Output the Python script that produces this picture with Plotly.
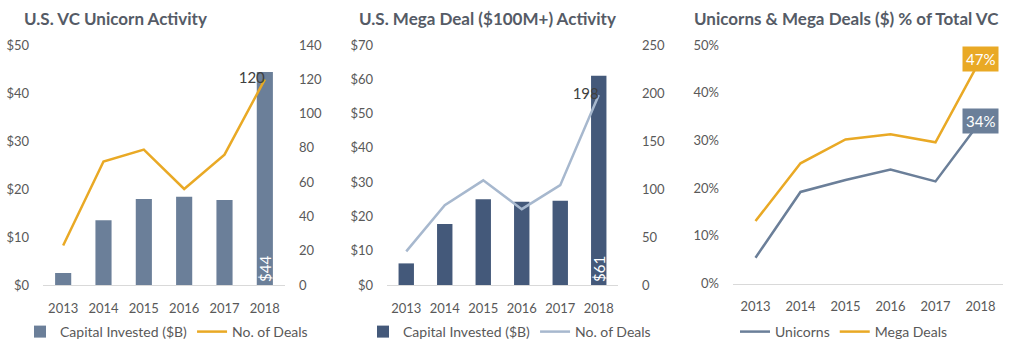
import plotly.graph_objects as go

years = ["2013", "2014", "2015", "2016", "2017", "2018"]
unicorn_capital = [2.5, 13.5, 17.9, 18.4, 17.7, 44.4]
unicorn_deals = [23, 72, 79, 56, 76, 120]
mega_capital = [6.3, 17.8, 25.0, 24.3, 24.6, 61.0]
mega_deals = [35, 83, 109, 79, 104, 198]
unicorn_pct = [5.4, 19.2, 21.7, 23.9, 21.4, 34]
mega_pct = [13.1, 25.2, 30.2, 31.3, 29.6, 47]

titles = ["U.S. VC Unicorn Activity", "U.S. Mega Deal ($100M+) Activity",
          "Unicorns & Mega Deals ($) % of Total VC"]

W, H = 1024, 351
FONT = "Lato"
GRAY = "#595959"
TITLE_C = "#555b66"
C_UNI = "#6b7f99"
C_MEGA_BAR = "#44597a"
C_MEGA_LINE = "#a7b8ce"
C_ORANGE = "#e9a925"

def px(x):
    return x / W

def py(y):
    return 1 - y / H

def last_only(vals, fmt):
    return [""] * (len(vals) - 1) + [fmt(vals[-1])]

fig = go.Figure()

# Panel 1
fig.add_trace(go.Bar(x=years, y=unicorn_capital, name="Capital Invested ($B)",
                     marker_color=C_UNI, xaxis="x", yaxis="y", legend="legend",
                     text=last_only(unicorn_capital, lambda v: f"${v:.0f}"),
                     textposition="inside", insidetextanchor="start", textangle=-90,
                     constraintext="none",
                     textfont=dict(color="white", size=15, family=FONT)))
fig.add_trace(go.Scatter(x=years, y=unicorn_deals, name="No. of Deals", mode="lines+text",
                         line=dict(color=C_ORANGE, width=2.5), xaxis="x", yaxis="y2",
                         legend="legend",
                         text=last_only(unicorn_deals, lambda v: f"{v}"),
                         textposition="middle left",
                         textfont=dict(color="#404040", size=15, family=FONT)))
# Panel 2
fig.add_trace(go.Bar(x=years, y=mega_capital, name="Capital Invested ($B)",
                     marker_color=C_MEGA_BAR, xaxis="x2", yaxis="y3", legend="legend2",
                     text=last_only(mega_capital, lambda v: f"${v:.0f}"),
                     textposition="inside", insidetextanchor="start", textangle=-90,
                     constraintext="none",
                     textfont=dict(color="white", size=15, family=FONT)))
fig.add_trace(go.Scatter(x=years, y=mega_deals, name="No. of Deals", mode="lines+text",
                         line=dict(color=C_MEGA_LINE, width=2.5), xaxis="x2", yaxis="y4",
                         legend="legend2",
                         text=last_only(mega_deals, lambda v: f"{v}"),
                         textposition="middle left",
                         textfont=dict(color="#404040", size=15, family=FONT)))
# Panel 3
fig.add_trace(go.Scatter(x=years, y=unicorn_pct, name="Unicorns", mode="lines",
                         line=dict(color=C_UNI, width=2.5), xaxis="x3", yaxis="y5",
                         legend="legend3"))
fig.add_trace(go.Scatter(x=years, y=mega_pct, name="Mega Deals", mode="lines",
                         line=dict(color=C_ORANGE, width=2.5), xaxis="x3", yaxis="y5",
                         legend="legend3"))

tickfont = dict(family=FONT, size=13, color=GRAY)
xcommon = dict(type="category", showgrid=False, showline=True, linecolor="#d9d9d9",
               linewidth=1, ticks="", tickfont=tickfont, ticklabelstandoff=11,
               zeroline=False, fixedrange=True, automargin=False,
               range=[-0.5, len(years) - 0.5])
ycommon = dict(showgrid=False, showline=False, zeroline=False, ticks="",
               tickfont=tickfont, fixedrange=True, automargin=False)

legfont = dict(family=FONT, size=14, color=GRAY)
ydom = [py(285), py(45)]
fig.update_layout(
    template="none",
    width=W, height=H, margin=dict(l=0, r=0, t=0, b=0, autoexpand=False),
    paper_bgcolor="white", plot_bgcolor="white",
    font=dict(family=FONT, color=GRAY),
    bargap=0.6,
    xaxis=dict(domain=[px(43), px(285)], anchor="y", **xcommon),
    yaxis=dict(domain=ydom, anchor="x", range=[0, 50], dtick=10, tickprefix="$",
               ticklabelstandoff=13, **ycommon),
    yaxis2=dict(overlaying="y", side="right", anchor="x", range=[0, 140], dtick=20,
                ticklabelstandoff=13, **ycommon),
    xaxis2=dict(domain=[px(387), px(618)], anchor="y3", **xcommon),
    yaxis3=dict(domain=ydom, anchor="x2", range=[0, 70], dtick=10, tickprefix="$",
                ticklabelstandoff=13, **ycommon),
    yaxis4=dict(overlaying="y3", side="right", anchor="x2", range=[0, 250], dtick=50,
                ticklabelstandoff=23, **ycommon),
    xaxis3=dict(domain=[px(733), px(1003)], anchor="y5", **xcommon),
    yaxis5=dict(domain=[py(283.5), py(45)], anchor="x3", range=[0, 50], dtick=10,
                ticksuffix="%", ticklabelstandoff=13, **ycommon),
    legend=dict(orientation="h", x=px(20), y=py(332), xanchor="left", yanchor="middle",
                font=legfont, bgcolor="rgba(0,0,0,0)", borderwidth=0),
    legend2=dict(orientation="h", x=px(363), y=py(332), xanchor="left", yanchor="middle",
                 font=legfont, bgcolor="rgba(0,0,0,0)", borderwidth=0),
    legend3=dict(orientation="h", x=px(735), y=py(332), xanchor="left", yanchor="middle",
                 font=legfont, bgcolor="rgba(0,0,0,0)", borderwidth=0),
)

title_x = [22, 357, 692]
for t, x in zip(titles, title_x):
    fig.add_annotation(text=f"<b>{t}</b>", xref="paper", yref="paper", x=px(x), y=py(19),
                       xanchor="left", yanchor="middle", showarrow=False,
                       font=dict(family=FONT, size=17, color=TITLE_C))

last_idx = len(years) - 1
for vals, col in [(mega_pct, C_ORANGE), (unicorn_pct, C_UNI)]:
    fig.add_annotation(x=last_idx, y=vals[-1], xref="x3", yref="y5",
                       text=f"{vals[-1]:.0f}%", showarrow=False, bgcolor=col,
                       borderpad=3, font=dict(family=FONT, size=15, color="white"))

fig.write_html("out.html")
